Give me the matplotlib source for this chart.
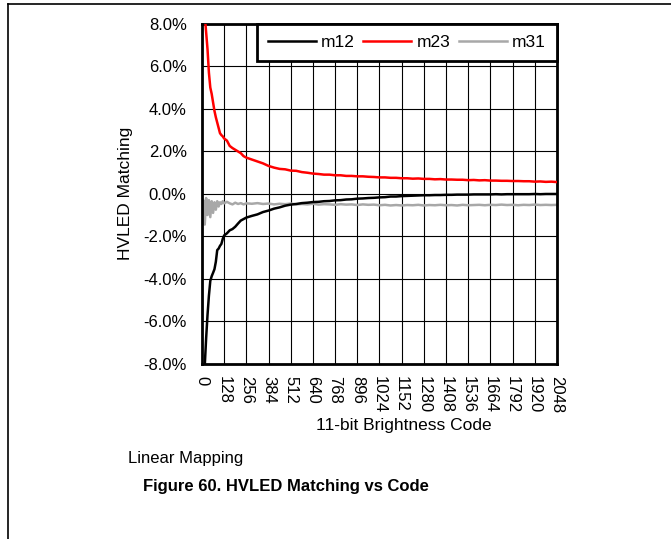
import numpy as np
import matplotlib
matplotlib.use("Agg")
import matplotlib.pyplot as plt
from matplotlib.lines import Line2D
from matplotlib.ticker import FuncFormatter, MultipleLocator

plt.rcParams["font.family"] = ["Liberation Sans", "DejaVu Sans"]

# Codigo de brillo (11 bits) y el matching medido de cada par
codigo = [4, 8, 16, 24, 32, 40, 48, 56, 64, 72, 80, 88, 96, 104, 112, 120, 128,
          144, 160, 176, 192, 208, 224, 240, 256,
          288, 320, 352, 384, 416, 448, 480, 512, 544, 576, 608, 640, 672, 704,
          736, 768, 800, 832, 864, 896, 928, 960, 992, 1024, 1056, 1088, 1120,
          1152, 1184, 1216, 1248, 1280, 1312, 1344, 1376, 1408, 1440, 1472,
          1504, 1536, 1568, 1600, 1632, 1664, 1696, 1728, 1760, 1792, 1824,
          1856, 1888, 1920, 1952, 1984, 2016, 2048]

m12 = [-9.6, -9.0, -8.1, -6.8, -5.7, -4.8, -4.1, -3.88, -3.72, -3.55, -3.2, -2.65,
       -2.58, -2.45, -2.36, -2.12, -1.96,
       -1.86, -1.72, -1.66, -1.55, -1.40, -1.26, -1.19, -1.12,
       -1.04, -0.97, -0.86, -0.79, -0.70, -0.64, -0.56, -0.51, -0.48, -0.44,
       -0.42, -0.39, -0.38, -0.35, -0.34, -0.31, -0.30, -0.27, -0.26, -0.23,
       -0.22, -0.20, -0.19, -0.17, -0.16, -0.13, -0.13, -0.11, -0.10, -0.09,
       -0.08, -0.07, -0.07, -0.06, -0.06, -0.05, -0.05, -0.04, -0.04, -0.04,
       -0.03, -0.03, -0.03, -0.03, -0.02, -0.03, -0.02, -0.02, -0.02, -0.02,
       -0.02, -0.01, -0.02, -0.01, -0.01, -0.01]

m23 = [10.5, 9.6, 8.4, 7.6, 6.8, 5.7, 5.0, 4.7, 4.3, 3.9, 3.6, 3.35, 3.1, 2.85,
       2.76, 2.7, 2.6,
       2.5, 2.25, 2.15, 2.07, 1.99, 1.91, 1.77, 1.70,
       1.61, 1.52, 1.43, 1.31, 1.23, 1.17, 1.15, 1.09, 1.08, 1.02, 0.99, 0.95,
       0.93, 0.90, 0.90, 0.87, 0.87, 0.84, 0.84, 0.82, 0.82, 0.80, 0.79, 0.77,
       0.77, 0.75, 0.75, 0.73, 0.73, 0.71, 0.72, 0.70, 0.70, 0.68, 0.69, 0.67,
       0.67, 0.66, 0.66, 0.64, 0.65, 0.63, 0.64, 0.62, 0.62, 0.61, 0.61, 0.60,
       0.60, 0.59, 0.59, 0.57, 0.58, 0.56, 0.57, 0.55]

m31 = [-1.4, -0.3, -1.45, -0.2, -1.0, -0.3, -1.1, -0.35, -0.9, -0.4, -0.75,
       -0.35, -0.6, -0.4, -0.48, -0.35, -0.45,
       -0.38, -0.45, -0.5, -0.42, -0.48, -0.44, -0.5, -0.45,
       -0.47, -0.44, -0.48, -0.46, -0.5, -0.47, -0.49, -0.46, -0.5, -0.48,
       -0.5, -0.47, -0.51, -0.49, -0.5, -0.52, -0.49, -0.51, -0.5, -0.53,
       -0.5, -0.52, -0.51, -0.54, -0.52, -0.55, -0.53, -0.55, -0.53, -0.54,
       -0.52, -0.55, -0.53, -0.54, -0.52, -0.54, -0.53, -0.55, -0.52, -0.54,
       -0.53, -0.52, -0.54, -0.52, -0.53, -0.51, -0.53, -0.52, -0.54, -0.52,
       -0.53, -0.51, -0.53, -0.52, -0.53, -0.52]

ticks_x = list(range(0, 2049, 128))

fig = plt.figure(figsize=(6.71, 5.39), dpi=100)
ax = fig.add_axes([0.301, 0.325, 0.529, 0.631])

ax.plot(codigo, m12, color="black", lw=1.8, label="m12", zorder=3)
ax.plot(codigo, m23, color="#ff0000", lw=1.8, label="m23", zorder=3)
ax.plot(codigo, m31, color="#a8a8a8", lw=1.8, label="m31", zorder=2)

ax.set_xlim(0, 2048)
ax.set_ylim(-8, 8)
ax.set_xticks(ticks_x)
ax.yaxis.set_major_locator(MultipleLocator(2))
ax.yaxis.set_major_formatter(FuncFormatter(lambda v, p: f"{v:.1f}%"))
ax.tick_params(axis="x", labelsize=12, rotation=-90, length=0, pad=9)
ax.tick_params(axis="y", labelsize=12, length=0, pad=11)
for lab in ax.get_xticklabels():
    lab.set_va("top")
    lab.set_ha("center")

ax.grid(True, color="black", lw=0.8)
for s in ax.spines.values():
    s.set_linewidth(2)
    s.set_color("black")

ax.set_xlabel("11-bit Brightness Code", fontsize=12.5)
ax.xaxis.set_label_coords(0.569, -0.16)
ax.set_ylabel("HVLED Matching", fontsize=12.5, labelpad=7)

leg = ax.legend(loc="upper right", ncol=3, bbox_to_anchor=(1.0, 1.0),
                borderaxespad=0, fontsize=12.5, handlelength=2.75,
                handletextpad=0.3, columnspacing=0.5, borderpad=0.65,
                fancybox=False, framealpha=1)
leg.get_frame().set_edgecolor("black")
leg.get_frame().set_linewidth(2)

# marco de la pagina
fig.add_artist(Line2D([8 / 671, 1], [1 - 4 / 539] * 2, color="black", lw=1.2))
fig.add_artist(Line2D([8 / 671] * 2, [0, 1 - 4 / 539], color="black", lw=1.2))

fig.text(128 / 671, 1 - 458 / 539, "Linear Mapping", fontsize=12, va="center")
fig.text(143 / 671, 1 - 487 / 539, "Figure 60. HVLED Matching vs Code",
         fontsize=12, fontweight="bold", va="center")

fig.savefig("out.png", dpi=100)
